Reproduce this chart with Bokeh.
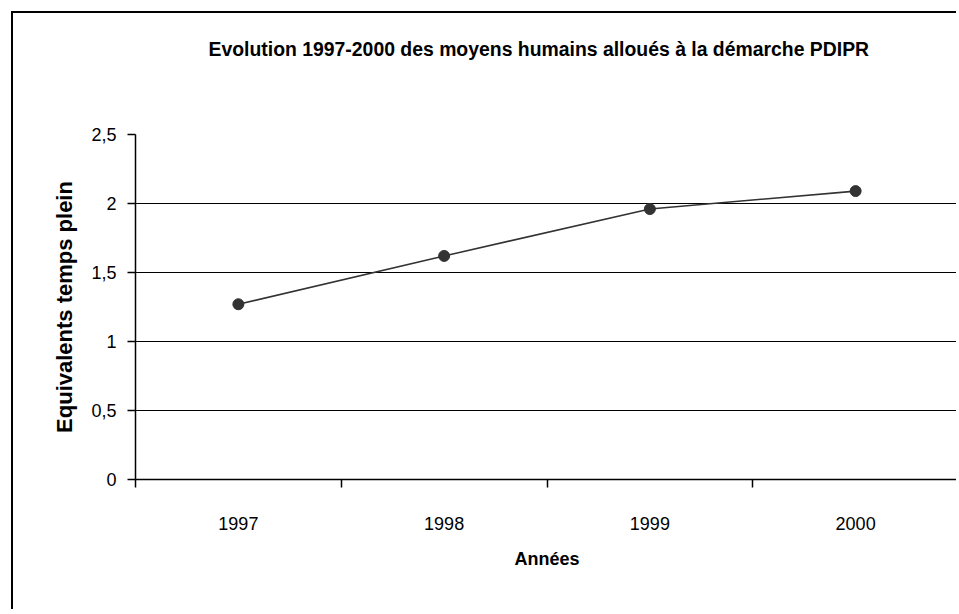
from bokeh.plotting import figure
from bokeh.models import Range1d, FixedTicker, Title
from bokeh.embed import file_html
from bokeh.resources import INLINE

# ---- data ----
years = ["1997", "1998", "1999", "2000"]
etp = [1.27, 1.62, 1.96, 2.09]
y_ticks = [0, 0.5, 1, 1.5, 2, 2.5]
y_tick_labels = ["0", "0,5", "1", "1,5", "2", "2,5"]
title_text = "Evolution 1997-2000 des moyens humains alloués à la démarche PDIPR"
x_label = "Années"
y_label = "Equivalents temps plein"

x_pos = [i + 0.5 for i in range(len(years))]
boundaries = list(range(len(years) + 1))
y_max = y_ticks[-1]

FONT = "'Liberation Sans', Arial, sans-serif"

p = figure(width=945, height=598, output_backend="svg", toolbar_location=None,
           x_range=Range1d(0, len(years)), y_range=Range1d(0, y_max),
           min_border_left=122, min_border_right=0, min_border_top=121,
           min_border_bottom=132)
p.styles = {"margin-left": "11px", "margin-top": "11px",
            "border-left": "2px solid black", "border-top": "2px solid black"}

# spacer between the frame and the title
p.add_layout(Title(text=" ", text_font_size="1px", standoff=70), "above")
p.title = Title(text=title_text, align="left", offset=73, vertical_align="top",
                text_font=FONT, text_font_size="19.4px", text_font_style="bold",
                text_color="black", standoff=0)

p.outline_line_color = None
p.background_fill_color = "white"
p.border_fill_color = "white"

# x axis
p.xaxis.ticker = FixedTicker(ticks=x_pos, minor_ticks=boundaries)
p.xaxis.major_label_overrides = {xp: yr for xp, yr in zip(x_pos, years)}
p.xaxis.major_tick_out = 0
p.xaxis.major_tick_in = 0
p.xaxis.minor_tick_out = 8
p.xaxis.minor_tick_in = 0
p.xaxis.minor_tick_line_color = "black"
p.xaxis.minor_tick_line_width = 1.5
p.xaxis.axis_line_color = "black"
p.xaxis.axis_line_width = 1.5
p.xaxis.major_label_standoff = 29
p.xaxis.major_label_text_font = FONT
p.xaxis.major_label_text_font_size = "18px"
p.xaxis.major_label_text_color = "black"
p.xaxis.axis_label = x_label
p.xaxis.axis_label_text_font = FONT
p.xaxis.axis_label_text_font_size = "18px"
p.xaxis.axis_label_text_font_style = "bold"
p.xaxis.axis_label_text_color = "black"
p.xaxis.axis_label_standoff = 16

# y axis
p.yaxis.ticker = FixedTicker(ticks=y_ticks, minor_ticks=[])
p.yaxis.major_label_overrides = {t: l for t, l in zip(y_ticks, y_tick_labels)}
p.yaxis.major_tick_out = 8
p.yaxis.major_tick_in = 0
p.yaxis.major_tick_line_color = "black"
p.yaxis.major_tick_line_width = 1.5
p.yaxis.axis_line_color = "black"
p.yaxis.axis_line_width = 1.5
p.yaxis.major_label_standoff = 11
p.yaxis.major_label_text_font = FONT
p.yaxis.major_label_text_font_size = "18px"
p.yaxis.major_label_text_color = "black"
p.yaxis.axis_label = y_label
p.yaxis.axis_label_text_font = FONT
p.yaxis.axis_label_text_font_size = "22px"
p.yaxis.axis_label_text_font_style = "bold"
p.yaxis.axis_label_text_color = "black"
p.yaxis.axis_label_standoff = 11

# grid
p.xgrid.visible = False
p.ygrid.ticker = FixedTicker(ticks=y_ticks)
p.ygrid.grid_line_color = "black"
p.ygrid.grid_line_width = 1.2

p.line(x_pos, etp, line_color="#333333", line_width=1.6)
p.scatter(x_pos, etp, size=11, fill_color="#333333", line_color="#333333")

open("out.html", "w").write(file_html(p, INLINE))
